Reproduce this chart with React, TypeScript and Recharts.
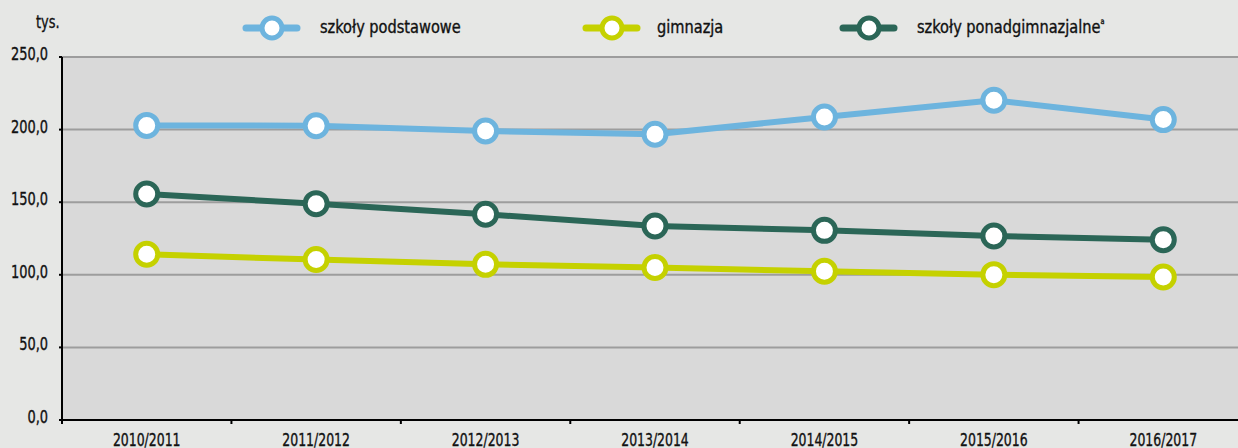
import React from 'react';
import { ComposedChart, Line, XAxis, YAxis, CartesianGrid } from 'recharts';

const categories = ['2010/2011', '2011/2012', '2012/2013', '2013/2014', '2014/2015', '2015/2016', '2016/2017'];
const podstawowe = [202.9, 202.7, 199.0, 196.8, 208.7, 220.2, 206.9];
const gimnazja = [114.1, 110.5, 107.2, 105.0, 102.4, 100.1, 98.5];
const ponadgimnazjalne = [155.6, 149.0, 141.7, 133.6, 130.6, 126.7, 124.2];
const yTicks = [0, 50, 100, 150, 200, 250];

const seriesNames = ['szkoły podstawowe', 'gimnazja', 'szkoły ponadgimnazjalne'];
const colors = ['#6db4de', '#c5d100', '#2b6657'];

const data = categories.map((c, i) => ({
  cat: c,
  podstawowe: podstawowe[i],
  gimnazja: gimnazja[i],
  ponadgimnazjalne: ponadgimnazjalne[i],
}));

const FONT = '"DejaVu Sans Condensed", "DejaVu Sans", sans-serif';
const CHART_W = 1250;
const CHART_H = 448;
const MARGIN = { top: 57, right: 2, bottom: 0, left: 0 };
const Y_W = 62;
const BAND = (CHART_W - MARGIN.left - MARGIN.right - Y_W) / categories.length;

const SText = ({ x, y, sx, anchor, size, children }: any) => (
  <text
    transform={`translate(${x},${y}) scale(${sx},1)`}
    textAnchor={anchor}
    fill="#111"
    stroke="#111"
    strokeWidth={0.35}
    fontSize={size}
    fontFamily={FONT}
  >
    {children}
  </text>
);

const XTick = (props: any) => {
  const { x, y, payload } = props;
  const bx = x - BAND / 2;
  return (
    <g>
      <line x1={bx} y1={y} x2={bx} y2={y + 4} stroke="#000" strokeWidth={2} />
      <SText x={x} y={y + 26} sx={0.77} anchor="middle" size={18}>
        {payload.value}
      </SText>
    </g>
  );
};

const fmt = (v: number) => v.toFixed(1).replace('.', ',');

const YTick = (props: any) => {
  const { y, payload } = props;
  return (
    <SText x={48} y={y + 3} sx={0.8} anchor="end" size={18}>
      {fmt(payload.value)}
    </SText>
  );
};

const legendItems = [
  { name: seriesNames[0], color: colors[0], x: 243, tx: 320 },
  { name: seriesNames[1], color: colors[1], x: 583, tx: 657 },
  { name: seriesNames[2], color: colors[2], x: 840, tx: 917 },
];

export default function App() {
  return (
    <div
      style={{
        position: 'fixed',
        left: 0,
        top: 0,
        width: 1238,
        height: 448,
        overflow: 'hidden',
        background: '#e6e7e5',
      }}
    >
      <div style={{ position: 'absolute', left: 0, top: 0 }}>
        <ComposedChart width={CHART_W} height={CHART_H} data={data} margin={MARGIN}>
          <CartesianGrid
            vertical={false}
            horizontal={true}
            fill="#d9d9d9"
            stroke="#9d9d9d"
            strokeWidth={2}
          />
          <XAxis
            dataKey="cat"
            scale="band"
            height={28}
            axisLine={{ stroke: '#000', strokeWidth: 2 }}
            tickLine={false}
            tickSize={0}
            tickMargin={0}
            tick={<XTick />}
            interval={0}
          />
          <YAxis
            width={Y_W}
            domain={[0, 250]}
            ticks={yTicks}
            axisLine={{ stroke: '#000', strokeWidth: 2 }}
            tickLine={{ stroke: '#000', strokeWidth: 2 }}
            tickSize={3}
            tickMargin={11}
            tick={<YTick />}
          />
          <Line
            dataKey="podstawowe"
            name={seriesNames[0]}
            stroke={colors[0]}
            strokeWidth={6}
            strokeLinejoin="round"
            dot={{ r: 11, fill: '#fff', stroke: colors[0], strokeWidth: 5 }}
            isAnimationActive={false}
          />
          <Line
            dataKey="ponadgimnazjalne"
            name={seriesNames[2]}
            stroke={colors[2]}
            strokeWidth={6}
            strokeLinejoin="round"
            dot={{ r: 11, fill: '#fff', stroke: colors[2], strokeWidth: 5 }}
            isAnimationActive={false}
          />
          <Line
            dataKey="gimnazja"
            name={seriesNames[1]}
            stroke={colors[1]}
            strokeWidth={6}
            strokeLinejoin="round"
            dot={{ r: 11, fill: '#fff', stroke: colors[1], strokeWidth: 5 }}
            isAnimationActive={false}
          />
        </ComposedChart>
      </div>
      <svg
        width={1238}
        height={50}
        style={{ position: 'absolute', left: 0, top: 0 }}
      >
        <SText x={36} y={28} sx={0.8} anchor="start" size={18}>tys.</SText>
        {legendItems.map((it, i) => (
          <g key={i}>
            <line x1={it.x + 3} y1={28} x2={it.x + 54} y2={28} stroke={it.color} strokeWidth={7} strokeLinecap="round" />
            <circle cx={it.x + 29} cy={28} r={10} fill="#fff" stroke={it.color} strokeWidth={5} />
            <SText x={it.tx} y={33} sx={0.9} anchor="start" size={18}>
              {it.name}
              {i === 2 ? (
                <tspan fontSize={8} dy={-9}>a</tspan>
              ) : null}
            </SText>
          </g>
        ))}
      </svg>
    </div>
  );
}
